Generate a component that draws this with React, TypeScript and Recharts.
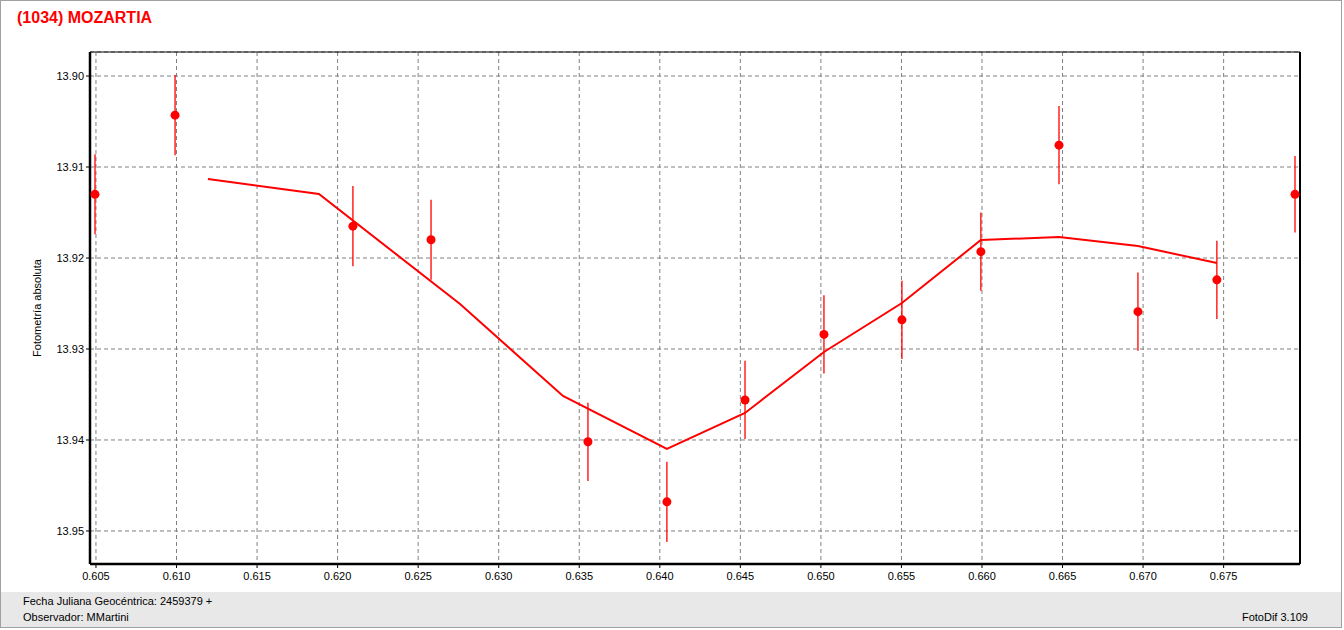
import React from 'react';
import { ComposedChart, Scatter, Line, XAxis, YAxis, CartesianGrid, ErrorBar, ReferenceLine } from 'recharts';

// Observations (time fraction, magnitude, error)
const obsX = [0.60494, 0.60991, 0.62095, 0.6258, 0.63554, 0.64044, 0.64529, 0.65019, 0.65503, 0.65993, 0.66478, 0.66968, 0.67458, 0.67943];
const obsY = [13.913, 13.9043, 13.9165, 13.918, 13.9402, 13.9468, 13.9356, 13.9284, 13.9268, 13.9193, 13.9076, 13.9259, 13.9224, 13.913];
const obsErr = [0.0044, 0.0044, 0.0044, 0.0044, 0.0043, 0.0044, 0.0043, 0.0043, 0.0043, 0.0043, 0.0043, 0.0043, 0.0043, 0.0042];

// Model curve
const modelX = [0.61195, 0.61884, 0.6276, 0.63399, 0.64044, 0.64529, 0.65019, 0.65503, 0.65993, 0.66478, 0.66968, 0.67458];
const modelY = [13.91132, 13.91297, 13.92505, 13.93516, 13.94099, 13.93703, 13.93033, 13.92495, 13.91802, 13.91769, 13.91868, 13.92055];

// Axes
const xMajorTicks = [0.605, 0.61, 0.615, 0.62, 0.625, 0.63, 0.635, 0.64, 0.645, 0.65, 0.655, 0.66, 0.665, 0.67, 0.675];
const yMajorTicks = [13.9, 13.91, 13.92, 13.93, 13.94, 13.95];
const xDomain = [0.60463, 0.67974];
const yDomain = [13.89736, 13.95363];

const xMinorTicks = xMajorTicks.flatMap((m) => [m, m + 0.00125, m + 0.0025, m + 0.00375]).filter((v) => v <= xDomain[1]);
const yMinorTicks = yMajorTicks.flatMap((m) => [m, m + 0.0025, m + 0.005, m + 0.0075]).filter((v) => v <= yDomain[1]);

const obsData = obsX.map((x, i) => ({ x, y: obsY[i], err: obsErr[i] }));
const modelData = modelX.map((x, i) => ({ x, y: modelY[i] }));

const FONT = '"Liberation Sans", Arial, sans-serif';
const tickStyle = { fontFamily: FONT, fontSize: 11, fill: '#000' };

const EmptyTick = () => <g />;

const Dot = (props: any) => {
  const { cx, cy } = props;
  if (cx == null || cy == null) return <g />;
  return <circle cx={cx} cy={cy} r={4.5} fill="#ff0000" />;
};

const YLabel = (props: any) => {
  const vb = props.viewBox || {};
  const x = vb.x + 7;
  const y = vb.y + vb.height / 2;
  return (
    <text x={x} y={y} transform={`rotate(-90 ${x} ${y})`} textAnchor="middle" dominantBaseline="central" style={{ fontFamily: FONT, fontSize: 11, fill: '#000' }}>
      Fotometría absoluta
    </text>
  );
};

export default function App() {
  return (
    <div style={{ position: 'absolute', left: 0, top: 0, width: 1344, height: 630, background: '#fff', overflow: 'hidden' }}>
      <div style={{ position: 'absolute', left: 0, top: 0, width: 1340, height: 626, border: '1px solid #a0a0a0' }} />
      <div style={{ position: 'absolute', left: 1, top: 592, width: 1340, height: 35, background: '#e8e8e8' }} />
      <div style={{ position: 'absolute', left: 17, top: 9, fontFamily: FONT, fontWeight: 'bold', fontSize: 16, color: '#ff0000', whiteSpace: 'nowrap' }}>
        (1034) MOZARTIA
      </div>
      <div style={{ position: 'absolute', left: 23, top: 595, fontFamily: FONT, fontSize: 11, color: '#000', whiteSpace: 'nowrap' }}>
        Fecha Juliana Geocéntrica: 2459379 +
      </div>
      <div style={{ position: 'absolute', left: 23, top: 611, fontFamily: FONT, fontSize: 11, color: '#000', whiteSpace: 'nowrap' }}>
        Observador: MMartini
      </div>
      <div style={{ position: 'absolute', right: 36, top: 611, fontFamily: FONT, fontSize: 11, color: '#000', whiteSpace: 'nowrap' }}>
        FotoDif 3.109
      </div>
      <div style={{ position: 'absolute', left: 0, top: 0 }}>
        <ComposedChart width={1344} height={630} margin={{ top: 52, right: 44, bottom: 36, left: 30 }}>
          <CartesianGrid stroke="#808080" strokeDasharray="4 3" strokeWidth={1} />
          <XAxis
            xAxisId="minor"
            type="number"
            dataKey="x"
            domain={xDomain}
            allowDataOverflow
            ticks={xMinorTicks}
            interval={0}
            height={0}
            axisLine={false}
            tick={EmptyTick}
            tickSize={4}
            tickLine={{ stroke: '#000' }}
          />
          <XAxis
            type="number"
            dataKey="x"
            domain={xDomain}
            allowDataOverflow
            ticks={xMajorTicks}
            interval={0}
            height={30}
            tickSize={4}
            tickMargin={4}
            tickFormatter={(v: number) => v.toFixed(3)}
            tick={tickStyle}
            tickLine={{ stroke: '#000' }}
            axisLine={{ stroke: '#000', strokeWidth: 2.5 }}
          />
          <YAxis
            yAxisId="minor"
            type="number"
            dataKey="y"
            domain={yDomain}
            reversed
            allowDataOverflow
            ticks={yMinorTicks}
            interval={0}
            width={0}
            axisLine={false}
            tick={EmptyTick}
            tickSize={3}
            tickLine={{ stroke: '#000' }}
          />
          <YAxis
            type="number"
            dataKey="y"
            domain={yDomain}
            reversed
            allowDataOverflow
            ticks={yMajorTicks}
            interval={0}
            width={60}
            tickSize={4}
            tickMargin={2}
            tickFormatter={(v: number) => v.toFixed(2)}
            tick={tickStyle}
            tickLine={{ stroke: '#000' }}
            axisLine={{ stroke: '#000', strokeWidth: 2.5 }}
            label={<YLabel />}
          />
          <ReferenceLine y={yDomain[0]} stroke="#000" strokeWidth={1.2} ifOverflow="visible" />
          <ReferenceLine x={xDomain[1]} stroke="#000" strokeWidth={2} ifOverflow="visible" />
          <Line data={modelData} dataKey="y" type="linear" stroke="#ff0000" strokeWidth={2} dot={false} activeDot={false} isAnimationActive={false} />
          <Scatter data={obsData} dataKey="y" fill="#ff0000" shape={Dot} isAnimationActive={false}>
            <ErrorBar dataKey="err" direction="y" width={0} stroke="#ff0000" strokeWidth={1.3} isAnimationActive={false} />
          </Scatter>
        </ComposedChart>
      </div>
    </div>
  );
}
